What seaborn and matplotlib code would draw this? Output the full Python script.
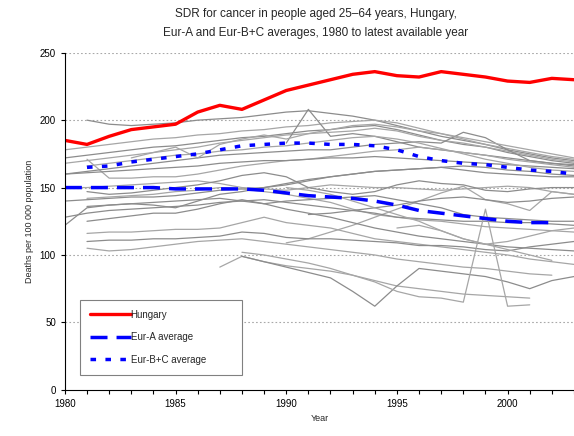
import numpy as np
import pandas as pd
import seaborn as sns
import matplotlib
matplotlib.use("Agg")
import matplotlib.pyplot as plt

nan = np.nan
years = list(range(1980, 2004))

# highlighted series
hungary = [185, 182, 188, 193, 195, 197, 206, 211, 208, 215, 222, 226, 230, 234, 236, 233, 232, 236, 234, 232, 229, 228, 231, 230]
eur_a = [150, 150, 150, 150, 150, 149, 149, 149, 149, 148, 146, 144, 143, 142, 140, 137, 133, 131, 129, 127, 125, 124, 124, nan]
eur_bc = [nan, 165, 166, 169, 171, 173, 175, 178, 181, 182, 183, 183, 182, 182, 181, 178, 173, 170, 168, 167, 165, 163, 162, 160]

# other countries (grey background lines)
grey_lines = [
    [nan, 200, 197, 196, 197, 198, 200, 201, 202, 204, 206, 207, 205, 203, 200, 196, 192, 188, 185, 182, 178, 175, 172, 170],
    [178, 180, 182, 184, 186, 187, 189, 190, 192, 193, 195, 196, 198, 199, 200, 198, 194, 190, 186, 182, 179, 176, 173, 171],
    [172, 174, 176, 178, 180, 181, 183, 185, 187, 188, 190, 192, 193, 195, 196, 193, 189, 185, 182, 180, 176, 173, 170, 168],
    [168, 170, 172, 174, 176, 178, 180, 183, 185, 187, 189, 190, 191, 192, 194, 192, 188, 185, 183, 180, 177, 174, 171, 169],
    [nan, nan, nan, nan, nan, nan, nan, nan, nan, nan, 183, 208, 188, 190, 188, 184, 180, 178, 176, 174, 172, 170, 168, 166],
    [nan, 171, 157, 157, 158, 158, 160, 163, 166, 168, 170, 171, 173, 175, 177, 178, 180, 178, 176, 174, 171, 169, 167, 165],
    [160, 162, 164, 166, 168, 170, 172, 174, 175, 176, 177, 178, 178, 180, 182, 183, 184, 183, 191, 187, 178, 170, 168, 167],
    [nan, nan, nan, 172, 176, 180, 172, 182, 186, 189, 186, 190, 193, 196, 197, 195, 192, 190, 187, 184, 181, 178, 175, 172],
    [160, 161, 162, 163, 164, 165, 166, 168, 169, 170, 170, 171, 172, 172, 173, 172, 171, 170, 169, 168, 167, 166, 165, 164],
    [nan, 166, 168, 170, 172, 174, 175, 177, 178, 180, 181, 183, 185, 187, 188, 186, 183, 179, 175, 171, 168, 165, 163, 162],
    [140, 141, 142, 143, 143, 144, 146, 148, 149, 150, 152, 155, 158, 160, 162, 163, 164, 165, 163, 161, 160, 159, 158, 158],
    [150, 150, 151, 152, 153, 154, 155, 153, 150, 149, 148, 150, 152, 151, 150, 150, 149, 148, 149, 150, 151, 150, 147, 145],
    [nan, 147, 145, 146, 148, 150, 152, 155, 159, 161, 158, 150, 147, 145, 147, 152, 155, 153, 152, 148, 147, 149, 150, 150],
    [nan, 142, 143, 144, 145, 147, 148, 150, 149, 147, 145, 142, 139, 134, 130, 128, 126, 125, 123, 121, 120, 119, 118, 117],
    [122, 135, 137, 138, 137, 135, 140, 145, 147, 150, 153, 156, 158, 160, 162, 163, 164, 165, 166, 165, 163, 162, 160, 159],
    [nan, nan, nan, nan, nan, nan, nan, nan, nan, nan, 109, 112, 117, 122, 128, 134, 140, 146, 151, 141, 138, 133, 147, 145],
    [nan, 125, 127, 129, 131, 131, 134, 138, 141, 138, 134, 131, 128, 124, 120, 117, 114, 112, 110, 108, 106, 105, 104, 103],
    [nan, 116, 117, 117, 118, 119, 119, 120, 124, 128, 124, 122, 120, 116, 112, 110, 108, 106, 104, 102, 100, 97, 95, 93],
    [nan, 110, 111, 111, 112, 112, 113, 114, 117, 116, 113, 112, 112, 111, 110, 109, 107, 107, 106, 104, 103, 106, 108, 110],
    [nan, 105, 103, 104, 106, 108, 110, 111, 112, 110, 108, 106, 104, 102, 100, 97, 95, 93, 91, 90, 88, 86, 85, nan],
    [128, 131, 133, 134, 135, 136, 137, 139, 140, 141, 139, 137, 135, 133, 131, 128, 127, 126, 125, 125, 124, 124, 123, 122],
    [nan, nan, nan, nan, nan, nan, nan, 91, 99, 95, 92, 90, 88, 85, 81, 77, 75, 73, 71, 70, 69, 68, nan, nan],
    [nan, nan, nan, nan, nan, nan, nan, nan, 99, 95, 91, 87, 83, 73, 62, 77, 90, 88, 86, 84, 80, 75, 81, 84],
    [nan, nan, nan, nan, nan, nan, nan, nan, 102, 100, 97, 94, 90, 85, 80, 73, 69, 68, 65, 134, 62, 63, nan, nan],
    [nan, nan, nan, nan, nan, nan, nan, nan, nan, nan, nan, 130, 131, 133, 135, 137, 140, 142, 143, 141, 139, 140, 142, 143],
    [nan, nan, nan, nan, nan, nan, nan, nan, nan, nan, nan, nan, nan, nan, nan, 120, 122, 118, 112, 108, 110, 114, 118, 120],
    [nan, 136, 137, 138, 139, 140, 141, 142, 140, 138, 140, 141, 142, 143, 144, 141, 138, 135, 130, 128, 127, 126, 125, 125],
    [nan, nan, nan, nan, nan, nan, nan, nan, nan, nan, 150, 148, 145, 140, 135, 130, 125, 118, 112, 108, 104, 100, 96, nan],
]
grey_colors = ["#8c8c8c", "#a6a6a6"]

sns.set_style("white")
plt.rcParams["font.family"] = ["Liberation Sans", "DejaVu Sans"]

fig = plt.figure(figsize=(5.74, 4.36), dpi=100)
ax = fig.add_axes([0.113, 0.106, 0.887, 0.773])

for i, vals in enumerate(grey_lines):
    sns.lineplot(x=years, y=vals, ax=ax, color=grey_colors[i % 2], linewidth=0.9)

sns.lineplot(x=years, y=hungary, ax=ax, color="#ff0000", linewidth=2.4, label="Hungary")
l_a = sns.lineplot(x=years, y=eur_a, ax=ax, color="#0000ff", linewidth=2.5, label="Eur-A average")
l_a.lines[-1].set_dashes([4.9, 2.6])
l_bc = sns.lineplot(x=years, y=eur_bc, ax=ax, color="#0000ff", linewidth=2.5, label="Eur-B+C average")
l_bc.lines[-1].set_dashes([1.6, 2.7])

ax.set_xlim(1980, 2003)
ax.set_ylim(0, 250)
ax.set_xticks(range(1980, 2004), minor=True)
ax.set_xticks([1980, 1985, 1990, 1995, 2000])
ax.set_yticks([0, 50, 100, 150, 200, 250])
ax.tick_params(axis="both", which="both", direction="out", length=3, width=0.8, labelsize=7, colors="#000000", bottom=True, left=True)
for y in [50, 100, 150, 200, 250]:
    ax.axhline(y, color="#a8a8a8", linestyle=(0, (1.5, 2)), linewidth=0.8, zorder=0)

for s in ["top", "right"]:
    ax.spines[s].set_visible(False)
for s in ["left", "bottom"]:
    ax.spines[s].set_color("#000000")
    ax.spines[s].set_linewidth(0.8)

ax.set_xlabel("Year", fontsize=6.5)
ax.set_ylabel("Deaths per 100 000 population", fontsize=6.5)
fig.suptitle("SDR for cancer in people aged 25\u201364 years, Hungary,\nEur-A and Eur-B+C averages, 1980 to latest available year",
             fontsize=8.5, x=0.55, y=0.982, linespacing=1.75)

leg = ax.legend(loc="lower left", bbox_to_anchor=(0.03, 0.045, 0.318, 0.217), mode="expand",
                fontsize=7, handlelength=4.2, fancybox=False, edgecolor="#808080", framealpha=1,
                borderpad=1.0, labelspacing=1.3, handletextpad=0.0, borderaxespad=0)
leg.get_frame().set_linewidth(0.8)
leg._legend_box.set_offset  # keep default packing
leg.get_frame().set_boxstyle("square", pad=0)

fig.savefig("out.png", dpi=100)
